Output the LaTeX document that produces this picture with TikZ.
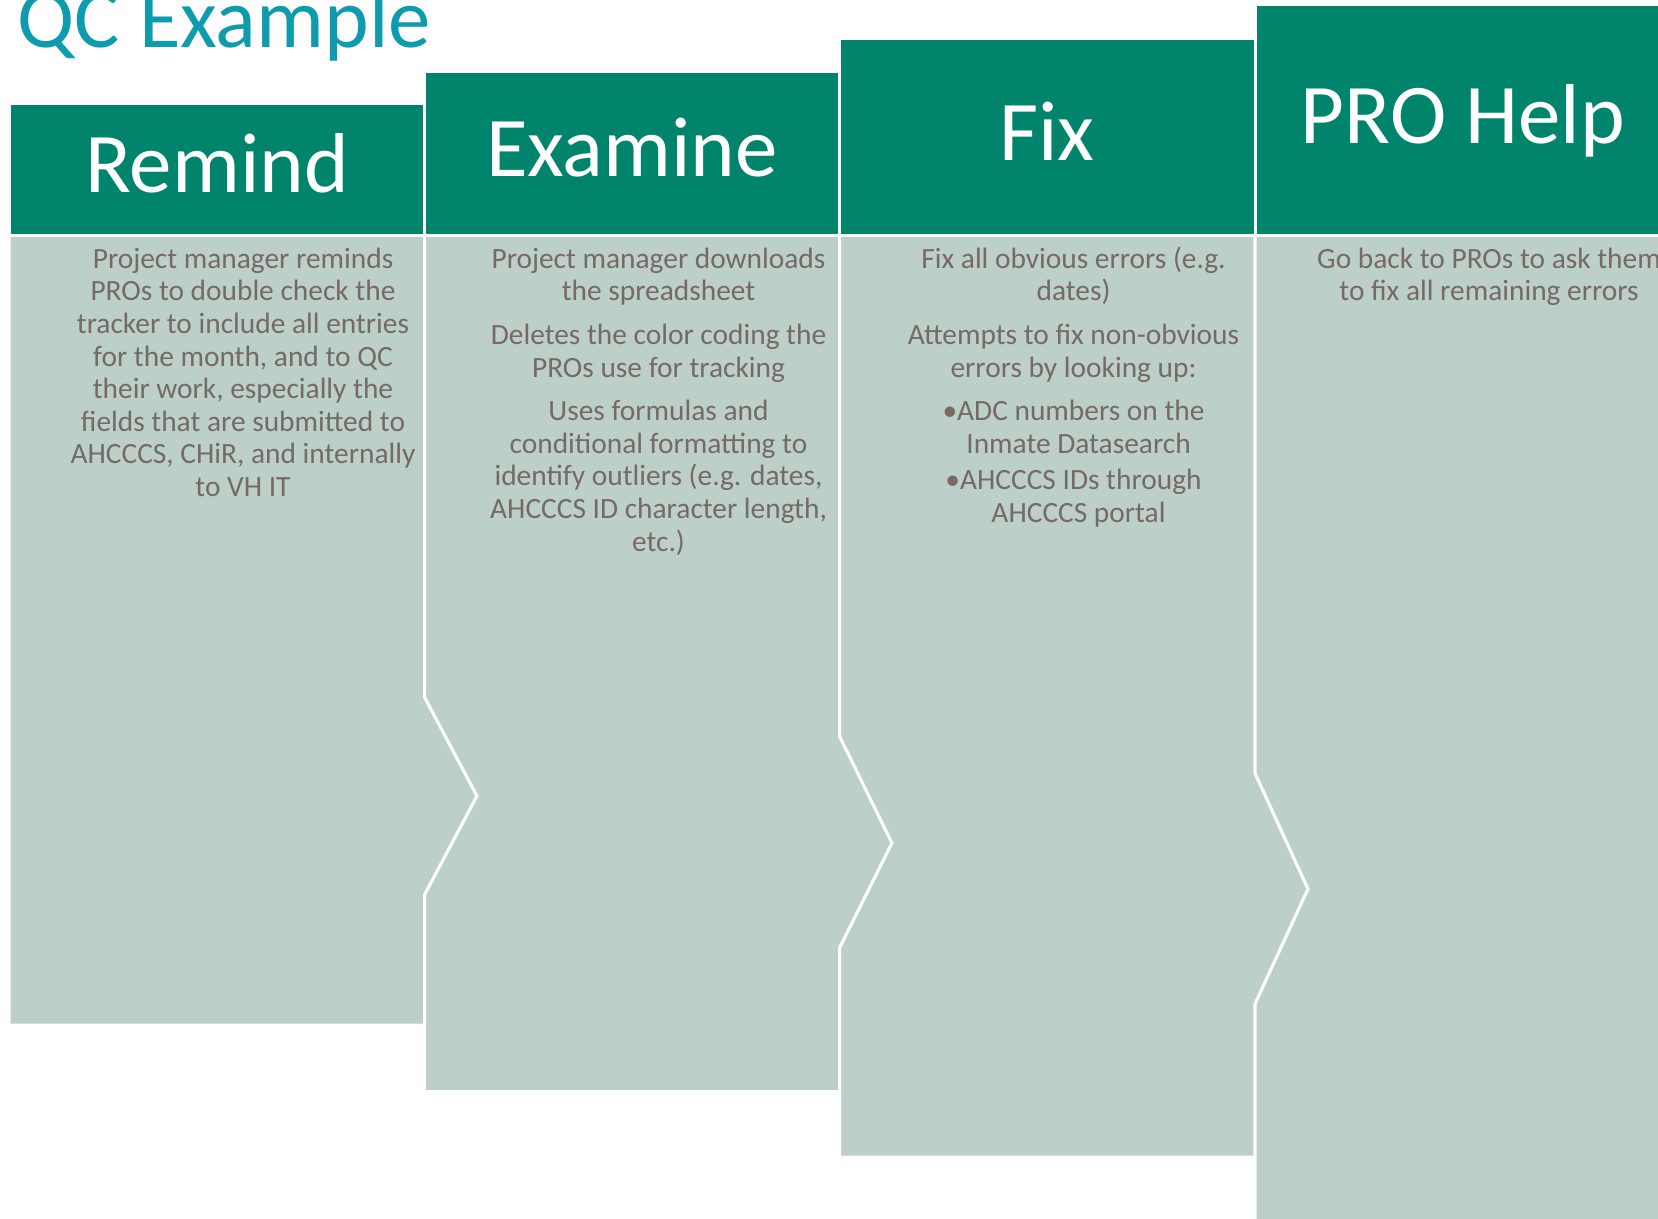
\documentclass[tikz,border=0pt]{standalone}
\usepackage{fontspec}
\setmainfont{Carlito}
\definecolor{hdrgreen}{RGB}{0,132,107}
\definecolor{bodygreen}{RGB}{188,207,200}
\definecolor{txtgray}{RGB}{118,106,101}
\definecolor{titleblue}{RGB}{14,155,173}
\begin{document}
\begin{tikzpicture}[x=0.5pt,y=-0.5pt,
  hdr/.style={fill=hdrgreen, draw=white, line width=1.5pt},
  bodyshape/.style={fill=bodygreen, draw=white, line width=1.5pt, line join=miter},
  hdrtext/.style={anchor=base, text=white, font=\fontsize{42.5}{50}\selectfont, inner sep=0pt},
  bodytext/.style={anchor=north, text=txtgray, align=center, font=\fontsize{14.7}{16.3}\selectfont, inner sep=0pt}]
\useasboundingbox (0,0) rectangle (1658,1219);
\clip (0,0) rectangle (1658,1219);
% title
\node[anchor=base west, text=titleblue, font=\fontsize{42.5}{50}\selectfont, inner sep=0pt] (title) at (17,48) {QC Example};
% bodies
\path[bodyshape] (9,235.5) -- (424.5,235.5) -- (424.5,697) -- (477,796) -- (424.5,895) -- (424.5,1025) -- (9,1025) -- cycle;
\path[bodyshape] (424.5,235.5) -- (839.5,235.5) -- (839.5,736) -- (892,843) -- (839.5,948) -- (839.5,1091.5) -- (424.5,1091.5) -- (424.5,895) -- (477,796) -- (424.5,697) -- cycle;
\path[bodyshape] (839.5,235.5) -- (1255,235.5) -- (1255,773) -- (1308,889) -- (1255,1004) -- (1255,1157) -- (839.5,1157) -- (839.5,948) -- (892,843) -- (839.5,736) -- cycle;
\path[bodyshape] (1255,235.5) -- (1680,235.5) -- (1680,1240) -- (1255,1240) -- (1255,1004) -- (1308,889) -- (1255,773) -- cycle;
% headers
\path[hdr] (9,104) rectangle (424.5,235.5);
\path[hdr] (424.5,72) rectangle (839.5,235.5);
\path[hdr] (839.5,39) rectangle (1255,235.5);
\path[hdr] (1255,5) rectangle (1680,235.5);
\node[hdrtext] (remind) at (217,193) {Remind};
\node[hdrtext] (examine) at (632,177) {Examine};
\node[hdrtext] (fix) at (1047,160.5) {Fix};
\node[hdrtext] (prohelp) at (1463,143.5) {PRO Help};
% body texts
\node[bodytext] (t1) at (243,245) {\strut Project manager reminds\\PROs to double check the\\tracker to include all entries\\for the month, and to QC\\their work, especially the\\fields that are submitted to\\AHCCCS, CHiR, and internally\\to VH IT};
\node[bodytext] (t2) at (658.5,245) {\strut Project manager downloads\\the spreadsheet\\[5.5pt]Deletes the color coding the\\PROs use for tracking\\[5.5pt]Uses formulas and\\conditional formatting to\\identify outliers (e.g. dates,\\AHCCCS ID character length,\\etc.)};
\node[bodytext] (t3) at (1073.5,245) {\strut Fix all obvious errors (e.g.\\dates)\\[5.5pt]Attempts to fix non-obvious\\errors by looking up:\\[5.5pt]•ADC numbers on the\\\hspace*{5pt}Inmate Datasearch\\[2pt]•AHCCCS IDs through\\\hspace*{5pt}AHCCCS portal};
\node[bodytext] (t4) at (1489,245) {\strut Go back to PROs to ask them\\to fix all remaining errors};
\end{tikzpicture}
\end{document}
